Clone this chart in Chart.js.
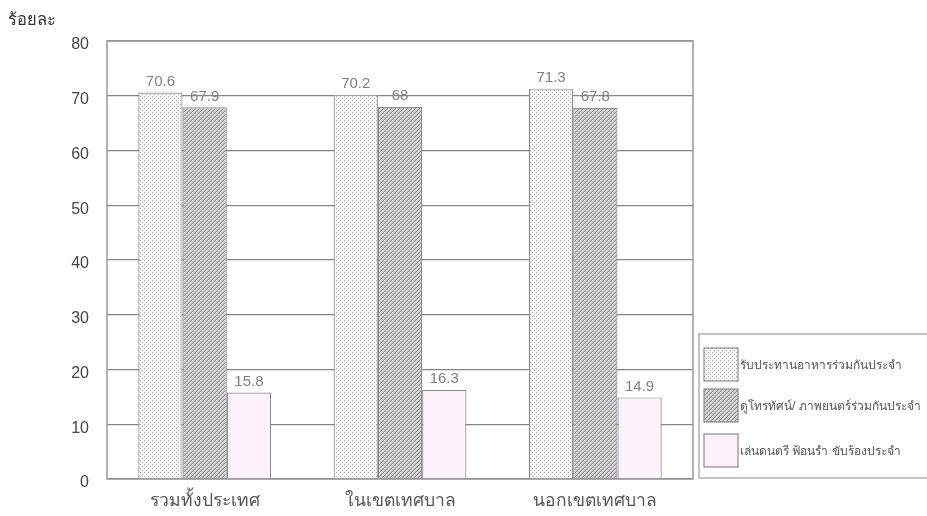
<!DOCTYPE html>
<html><head><meta charset="utf-8">
<script src="https://cdn.jsdelivr.net/npm/chart.js@4.4.1/dist/chart.umd.min.js"></script>
<style>html,body{margin:0;padding:0;background:#fff}#wrap{width:927px;height:516px;position:relative}</style>
</head><body><div id="wrap"><canvas id="c" width="927" height="516"></canvas></div>
<script>
const categories = ['รวมทั้งประเทศ', 'ในเขตเทศบาล', 'นอกเขตเทศบาล'];
const seriesNames = ['รับประทานอาหารร่วมกันประจำ', 'ดูโทรทัศน์/ ภาพยนตร์ร่วมกันประจำ', 'เล่นดนตรี ฟ้อนรำ ขับร้องประจำ'];
const mealValues = [70.6, 70.2, 71.3];
const tvValues = [67.9, 68, 67.8];
const musicValues = [15.8, 16.3, 14.9];
const yTickValues = [0, 10, 20, 30, 40, 50, 60, 70, 80];
const yTitle = 'ร้อยละ';

const FONT = '"Liberation Sans", "DejaVu Sans", "Noto Sans", sans-serif';

function makePattern(size, bg, draw) {
  const c = document.createElement('canvas');
  c.width = size; c.height = size;
  const x = c.getContext('2d');
  x.fillStyle = bg; x.fillRect(0, 0, size, size);
  draw(x);
  return x.createPattern(c, 'repeat');
}
const dotFill = makePattern(4, '#f7f7f7', x => {
  x.fillStyle = '#a8a8a8';
  x.fillRect(0, 0, 1, 1); x.fillRect(2, 2, 1, 1);
});
const hatchFill = makePattern(4, '#cfcfcf', x => {
  x.fillStyle = '#858585';
  for (let i = 0; i < 4; i++) x.fillRect(i, 3 - i, 1, 1);
  x.fillStyle = '#eeeeee';
  x.fillRect(0, 0, 1, 1); x.fillRect(2, 2, 1, 1);
});
const pinkFill = '#fdf1fb';
const fills = [dotFill, hatchFill, pinkFill];

const frameAndLabels = {
  id: 'frameAndLabels',
  beforeDatasetsDraw(chart) {
    const { ctx, chartArea: a } = chart;
    ctx.save();
    ctx.strokeStyle = '#9a9a9a';
    ctx.lineWidth = 1.5;
    ctx.strokeRect(a.left, a.top, a.right - a.left, a.bottom - a.top);
    ctx.restore();
  },
  afterDatasetsDraw(chart) {
    const { ctx } = chart;
    ctx.save();
    ctx.font = '15px ' + FONT;
    ctx.fillStyle = '#808080';
    ctx.textAlign = 'center';
    ctx.textBaseline = 'bottom';
    chart.data.datasets.forEach((ds, di) => {
      chart.getDatasetMeta(di).data.forEach((bar, i) => {
        ctx.fillText(String(ds.data[i]), bar.x, bar.y - 3);
      });
    });
    ctx.restore();
  },
  afterDraw(chart) {
    const { ctx, chartArea: a } = chart;
    ctx.save();
    ctx.font = '16.5px ' + FONT;
    ctx.fillStyle = '#333';
    ctx.textAlign = 'left';
    ctx.textBaseline = 'middle';
    ctx.fillText(yTitle, 8, 20);
    const lx = a.right + 6, ly = 334, lb = a.bottom - 1;
    ctx.strokeStyle = '#b0b0b0';
    ctx.lineWidth = 1.5;
    ctx.strokeRect(lx, ly, 260, lb - ly);
    const boxTops = [348, 389, 434];
    chart.data.datasets.forEach((ds, di) => {
      const bx = lx + 5, by = boxTops[di], bw = 34, bh = 33;
      ctx.fillStyle = ds.backgroundColor;
      ctx.fillRect(bx, by, bw, bh);
      ctx.strokeStyle = '#8a8a8a';
      ctx.lineWidth = 1.2;
      ctx.strokeRect(bx, by, bw, bh);
      ctx.fillStyle = '#555';
      ctx.font = '12px ' + FONT;
      ctx.textAlign = 'left';
      ctx.textBaseline = 'middle';
      ctx.fillText(ds.label, bx + bw + 2, by + bh / 2 + 1);
    });
    ctx.restore();
  }
};

new Chart(document.getElementById('c'), {
  type: 'bar',
  data: {
    labels: categories,
    datasets: [
      { label: seriesNames[0], data: mealValues, backgroundColor: fills[0] },
      { label: seriesNames[1], data: tvValues, backgroundColor: fills[1] },
      { label: seriesNames[2], data: musicValues, backgroundColor: fills[2] }
    ]
  },
  options: {
    responsive: false,
    animation: false,
    devicePixelRatio: 1,
    layout: { padding: { top: 41, right: 234, bottom: 0, left: 0 } },
    datasets: {
      bar: { barPercentage: 1, categoryPercentage: 0.68, borderColor: '#8e8e8e', borderWidth: 1.2 }
    },
    plugins: { legend: { display: false }, tooltip: { enabled: false } },
    scales: {
      x: {
        afterFit(scale) { scale.height = 37; },
        grid: { display: false, drawTicks: false },
        border: { display: false },
        ticks: { color: '#555', font: { size: 17.5, family: FONT }, padding: 12 }
      },
      y: {
        min: 0, max: 80,
        afterBuildTicks(scale) { scale.ticks = yTickValues.map(v => ({ value: v })); },
        afterFit(scale) { scale.width = 107; },
        grid: { color: '#858585', lineWidth: 1.3, drawTicks: false },
        border: { display: false },
        ticks: { color: '#444', font: { size: 16, family: FONT }, padding: 18, labelOffset: 4 }
      }
    }
  },
  plugins: [frameAndLabels]
});
</script></body></html>
